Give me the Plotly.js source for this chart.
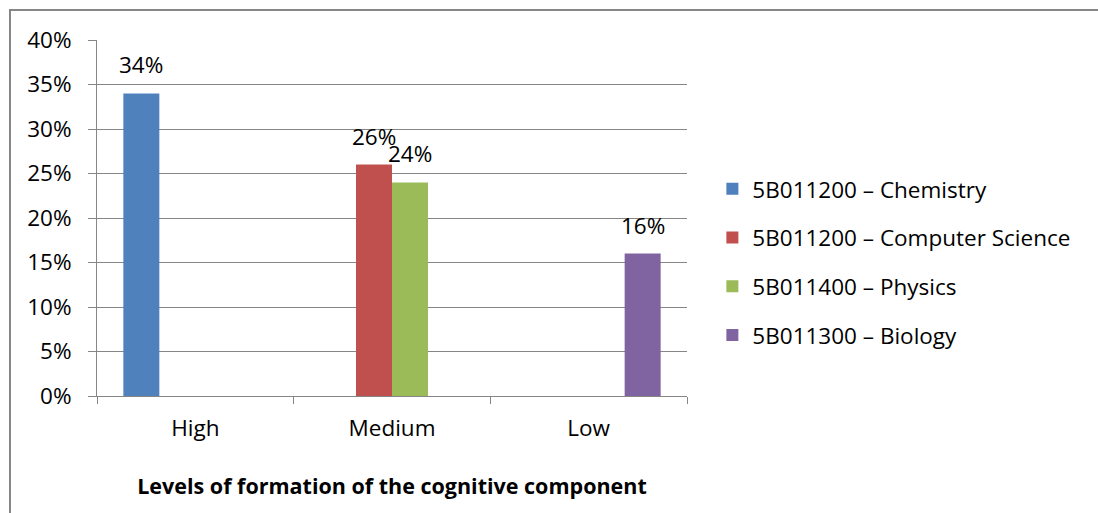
<!DOCTYPE html>
<html>
<head>
<meta charset="utf-8">
<script src="https://cdn.plot.ly/plotly-3.0.1.min.js"></script>
<style>
html,body{margin:0;padding:0;background:#fff;}
#wrap{position:relative;width:1098px;height:513px;overflow:hidden;background:#fff;}
#frame{position:absolute;left:9px;top:9px;width:1200px;height:700px;border:2px solid #868686;box-sizing:border-box;}
#chart{position:absolute;left:0;top:0;width:1098px;height:513px;}
</style>
</head>
<body>
<div id="wrap"><div id="frame"></div><div id="chart"></div></div>
<script>
const categories = ["High", "Medium", "Low"];
const seriesNames = ["5B011200 – Chemistry", "5B011200 – Computer Science", "5B011400 – Physics", "5B011300 – Biology"];
const chemistry = [0.34, null, null];
const computerScience = [null, 0.26, null];
const physics = [null, 0.24, null];
const biology = [null, null, 0.16];
const colors = ["#4F81BD", "#C0504D", "#9BBB59", "#8064A2"];
const yTickVals = [0, 0.05, 0.10, 0.15, 0.20, 0.25, 0.30, 0.35, 0.40];
const xTitle = "Levels of formation of the cognitive component";

const FONT = "'Open Sans', sans-serif";
const FS = 22.5;
const allSeries = [chemistry, computerScience, physics, biology];
const traces = allSeries.map((vals, i) => ({
  type: "bar",
  name: seriesNames[i],
  x: categories,
  y: vals,
  marker: {color: colors[i]},
  legendgroup: "g" + i,
  hoverinfo: "none"
}));

// data labels placed above each bar, positioned via the category axis and bar slot
const SLOT = 36; // px width of one bar slot
const annotations = [];
allSeries.forEach((vals, i) => {
  vals.forEach((v, j) => {
    if (v == null) return;
    annotations.push({
      x: categories[j], y: v, xref: "x", yref: "y",
      text: Math.round(v * 100) + "%",
      showarrow: false,
      xshift: (i - 1.5) * SLOT,
      yanchor: "bottom",
      yshift: 11,
      font: {family: FONT, size: FS, color: "#000"}
    });
  });
});

const layout = {
  width: 1098, height: 513,
  paper_bgcolor: "rgba(0,0,0,0)",
  plot_bgcolor: "rgba(0,0,0,0)",
  margin: {l: 97, r: 411, t: 40, b: 117},
  font: {family: FONT, size: FS, color: "#000"},
  barmode: "group",
  bargap: 0.268,
  bargroupgap: 0,
  showlegend: true,
  annotations: annotations,
  legend: {
    x: 1.043, xanchor: "left", y: 0.376, yanchor: "middle",
    font: {family: FONT, size: FS, color: "#000"},
    tracegroupgap: 16.5, traceorder: "grouped",
    bgcolor: "rgba(0,0,0,0)"
  },
  xaxis: {
    type: "category",
    showgrid: false,
    showline: true, linecolor: "#868686", linewidth: 1,
    ticks: "outside", tickson: "boundaries", ticklen: 7, tickcolor: "#868686",
    tickfont: {family: FONT, size: FS, color: "#000"},
    ticklabelstandoff: 12,
    title: {text: "<b>" + xTitle + "</b>", font: {family: FONT, size: 21.5, color: "#000"}, standoff: 36},
    automargin: false,
    fixedrange: true
  },
  yaxis: {
    range: [0, 0.4],
    tickvals: yTickVals,
    tickformat: ".0%",
    showgrid: true, gridcolor: "#868686", gridwidth: 1,
    zeroline: false,
    showline: true, linecolor: "#868686", linewidth: 1,
    ticks: "outside", ticklen: 8, tickcolor: "#868686",
    tickfont: {family: FONT, size: FS, color: "#000"},
    ticklabelstandoff: 12,
    automargin: false,
    fixedrange: true
  }
};

Plotly.newPlot("chart", traces, layout, {staticPlot: true, displayModeBar: false});
</script>
</body>
</html>
